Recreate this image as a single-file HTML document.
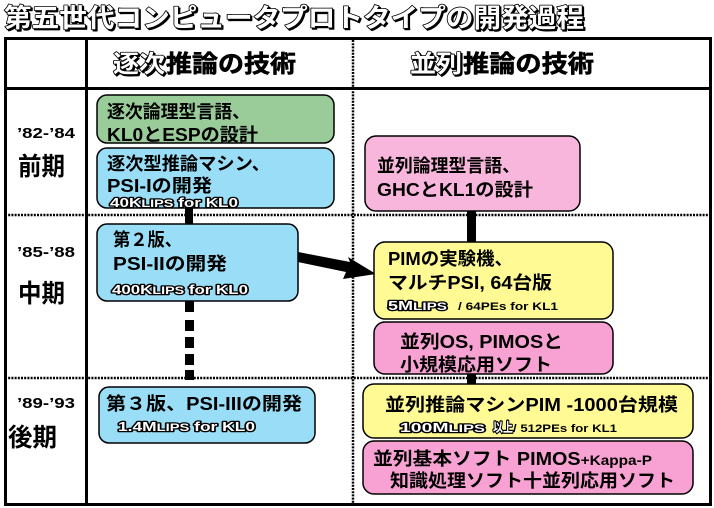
<!DOCTYPE html>
<html><head><meta charset="utf-8"><style>
html,body{margin:0;padding:0;background:#fff;}
svg{display:block;}
text{font-family:"Liberation Sans","Noto Sans CJK JP",sans-serif;font-weight:bold;}
.o{fill:#fff;stroke:#000;stroke-width:1.6;paint-order:stroke;stroke-linejoin:round;}
.sh{fill:#000;stroke:#000;stroke-width:1.6;stroke-linejoin:round;}
.s{fill:#fff;stroke:#000;stroke-width:2.6;paint-order:stroke;stroke-linejoin:round;font-size:13px;}
.b{fill:#000;font-size:18px;}
.box{stroke:#000;stroke-width:1.5;}
</style></head><body>
<svg width="714" height="508" viewBox="0 0 714 508" xmlns="http://www.w3.org/2000/svg">
<rect width="714" height="508" fill="#fff"/>
<!-- title -->
<text class="sh" x="5.5" y="28.5" font-size="26" textLength="580" lengthAdjust="spacingAndGlyphs">第五世代コンピュータプロトタイプの開発過程</text>
<text class="o" x="4" y="27" font-size="26" textLength="580" lengthAdjust="spacingAndGlyphs">第五世代コンピュータプロトタイプの開発過程</text>

<!-- table frame -->
<rect x="5.5" y="38.5" width="705" height="466" fill="none" stroke="#000" stroke-width="3"/>
<line x1="86.5" y1="38" x2="86.5" y2="505" stroke="#000" stroke-width="3"/>
<line x1="5" y1="88.5" x2="711" y2="88.5" stroke="#000" stroke-width="3"/>
<line x1="353" y1="40" x2="353" y2="503" stroke="#000" stroke-width="2.5" stroke-dasharray="2 1.2"/>
<line x1="5" y1="215" x2="710" y2="215" stroke="#000" stroke-width="2.5" stroke-dasharray="2 1.2"/>
<line x1="5" y1="378" x2="710" y2="378" stroke="#000" stroke-width="2.5" stroke-dasharray="2 1.2"/>

<!-- headers -->
<text class="sh" x="114.5" y="73.5" font-size="24" textLength="52" lengthAdjust="spacingAndGlyphs">逐次</text>
<text class="o" x="113" y="72" font-size="24" textLength="52" lengthAdjust="spacingAndGlyphs">逐次</text>
<text x="166" y="72" font-size="24" textLength="130" lengthAdjust="spacingAndGlyphs" stroke="#000" stroke-width="0.6">推論の技術</text>
<text class="sh" x="411.5" y="73.5" font-size="24" textLength="52" lengthAdjust="spacingAndGlyphs">並列</text>
<text class="o" x="410" y="72" font-size="24" textLength="52" lengthAdjust="spacingAndGlyphs">並列</text>
<text x="463" y="72" font-size="24" textLength="131" lengthAdjust="spacingAndGlyphs" stroke="#000" stroke-width="0.6">推論の技術</text>

<!-- period labels -->
<text x="17" y="138" font-size="15" textLength="58" lengthAdjust="spacingAndGlyphs">’82-’84</text>
<text x="18" y="175" font-size="25" textLength="47" lengthAdjust="spacingAndGlyphs">前期</text>
<text x="17" y="257" font-size="15" textLength="58" lengthAdjust="spacingAndGlyphs">’85-’88</text>
<text x="18" y="302" font-size="25" textLength="47" lengthAdjust="spacingAndGlyphs">中期</text>
<text x="17" y="408" font-size="15" textLength="58" lengthAdjust="spacingAndGlyphs">’89-’93</text>
<text x="8" y="446" font-size="25" textLength="49" lengthAdjust="spacingAndGlyphs">後期</text>

<!-- connectors -->
<rect x="185" y="207" width="8" height="18" fill="#000"/>
<rect x="185" y="301" width="9" height="11" fill="#000"/>
<rect x="185" y="320" width="9" height="11" fill="#000"/>
<rect x="185" y="337" width="9" height="11" fill="#000"/>
<rect x="185" y="354" width="9" height="11" fill="#000"/>
<rect x="185" y="370" width="9" height="10" fill="#000"/>
<rect x="467" y="210" width="9" height="33" fill="#000"/>
<rect x="467" y="372" width="9" height="13" fill="#000"/>

<!-- arrow -->
<polygon points="293,251 350,262 348,257 376,274 343,279 346,272 293,261" fill="#000"/>

<!-- left boxes -->
<rect class="box" x="97" y="95" width="237" height="48" rx="10" fill="#99CC99"/>
<text class="b" x="107" y="118" textLength="143" lengthAdjust="spacingAndGlyphs">逐次論理型言語、</text>
<text class="b" x="107" y="141" textLength="151" lengthAdjust="spacingAndGlyphs">KL0とESPの設計</text>

<rect class="box" x="97" y="148" width="237" height="60" rx="10" fill="#99DDF6"/>
<text class="b" x="107" y="170" textLength="163" lengthAdjust="spacingAndGlyphs">逐次型推論マシン、</text>
<text class="b" x="107" y="192" textLength="105" lengthAdjust="spacingAndGlyphs">PSI-Iの開発</text>
<text class="s" x="110" y="207" textLength="128" lengthAdjust="spacingAndGlyphs">40K<tspan font-size="11">LIPS</tspan> for KL0</text>

<rect class="box" x="97" y="224" width="201" height="77" rx="10" fill="#99DDF6"/>
<text class="b" x="113" y="246" textLength="69" lengthAdjust="spacingAndGlyphs">第２版、</text>
<text class="b" x="113" y="270" textLength="114" lengthAdjust="spacingAndGlyphs">PSI-IIの開発</text>
<text class="s" x="112" y="294" textLength="136" lengthAdjust="spacingAndGlyphs">400K<tspan font-size="11">LIPS</tspan> for KL0</text>

<rect class="box" x="99" y="387" width="216" height="56" rx="10" fill="#99DDF6"/>
<text class="b" x="106" y="410" textLength="196" lengthAdjust="spacingAndGlyphs">第３版、PSI-IIIの開発</text>
<text class="s" x="118" y="431" textLength="137" lengthAdjust="spacingAndGlyphs">1.4M<tspan font-size="11">LIPS</tspan> for KL0</text>

<!-- right boxes -->
<rect class="box" x="365" y="136" width="215" height="75" rx="11" fill="#F9B6DC"/>
<text class="b" x="377" y="172" textLength="143" lengthAdjust="spacingAndGlyphs">並列論理型言語、</text>
<text class="b" x="377" y="196" textLength="156" lengthAdjust="spacingAndGlyphs">GHCとKL1の設計</text>

<rect class="box" x="374" y="242" width="239" height="77" rx="11" fill="#FFFA94"/>
<text class="b" x="388" y="265" textLength="125" lengthAdjust="spacingAndGlyphs">PIMの実験機、</text>
<text class="b" x="388" y="289" textLength="164" lengthAdjust="spacingAndGlyphs">マルチPSI, 64台版</text>
<text class="s" x="388" y="310" textLength="59" lengthAdjust="spacingAndGlyphs">5M<tspan font-size="11">LIPS</tspan></text>
<text x="458" y="310" font-size="11" textLength="100" lengthAdjust="spacingAndGlyphs">/ 64PEs for KL1</text>

<rect class="box" x="374" y="322" width="239" height="52" rx="11" fill="#F7A2D2"/>
<text class="b" x="400" y="348" textLength="163" lengthAdjust="spacingAndGlyphs">並列OS, PIMOSと</text>
<text class="b" x="400" y="371" textLength="152" lengthAdjust="spacingAndGlyphs">小規模応用ソフト</text>

<rect class="box" x="363" y="384" width="330" height="54" rx="11" fill="#FFFA94"/>
<text class="b" x="385" y="411" font-size="19" textLength="293" lengthAdjust="spacingAndGlyphs">並列推論マシンPIM -1000台規模</text>
<text class="s" x="400" y="432" textLength="85" lengthAdjust="spacingAndGlyphs">100M<tspan font-size="11">LIPS</tspan></text>
<text class="s" x="493" y="432" font-size="12" textLength="20" lengthAdjust="spacingAndGlyphs">以上</text>
<text x="513" y="432" font-size="11" textLength="104" lengthAdjust="spacingAndGlyphs">/ 512PEs for KL1</text>

<rect class="box" x="363" y="441" width="330" height="53" rx="11" fill="#F7A2D2"/>
<text class="b" x="373" y="465" font-size="19" textLength="279" lengthAdjust="spacingAndGlyphs">並列基本ソフト PIMOS<tspan font-size="14">+Kappa-P</tspan></text>
<text class="b" x="390" y="487" font-size="20" textLength="285" lengthAdjust="spacingAndGlyphs">知識処理ソフト十並列応用ソフト</text>
</svg>
</body></html>
